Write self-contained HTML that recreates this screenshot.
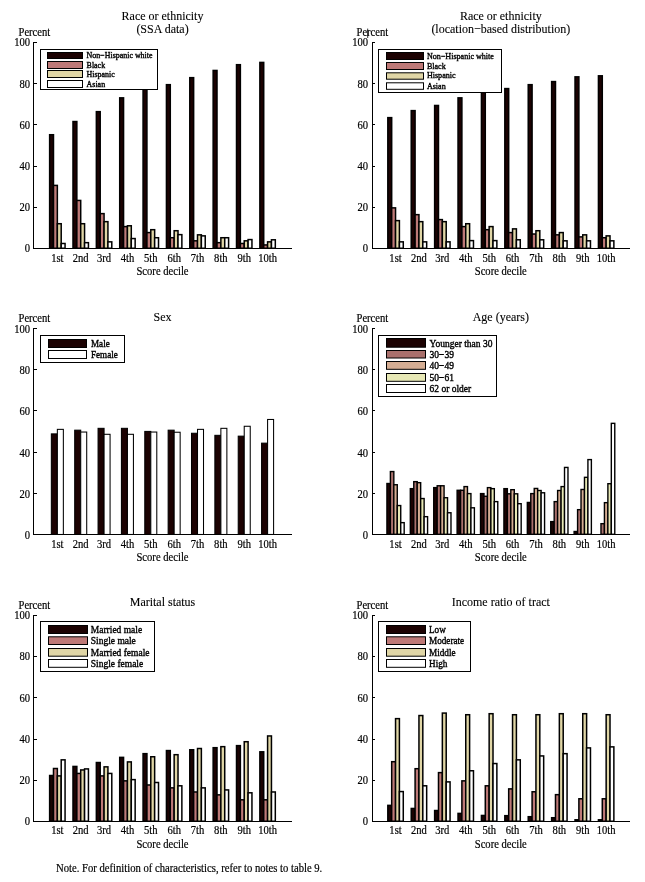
<!DOCTYPE html>
<html><head><meta charset="utf-8"><title>Score decile charts</title>
<style>
html,body{margin:0;padding:0;background:#fff;}
body{width:645px;height:882px;overflow:hidden;}
svg{display:block;will-change:transform;}
text{font-family:"Liberation Serif",serif;fill:#000;}
</style></head><body>
<svg width="645" height="882" viewBox="0 0 645 882">
<rect x="0" y="0" width="645" height="882" fill="#fff"/>
<text transform="translate(162.5 20.4) scale(1 1.08)" font-size="12" text-anchor="middle" stroke="#000" stroke-width="0.1">Race or ethnicity</text>
<text transform="translate(162.5 33) scale(1 1.08)" font-size="12" text-anchor="middle" stroke="#000" stroke-width="0.1">(SSA data)</text>
<text transform="translate(18.5 35.9) scale(1 1.11)" font-size="10.6" stroke="#000" stroke-width="0.18">Percent</text>
<text transform="translate(30.1 251.9) scale(1 1.11)" font-size="10.6" text-anchor="end" stroke="#000" stroke-width="0.18">0</text>
<text transform="translate(30.1 211.4) scale(1 1.11)" font-size="10.6" text-anchor="end" stroke="#000" stroke-width="0.18">20</text>
<text transform="translate(30.1 170.2) scale(1 1.11)" font-size="10.6" text-anchor="end" stroke="#000" stroke-width="0.18">40</text>
<text transform="translate(30.1 129) scale(1 1.11)" font-size="10.6" text-anchor="end" stroke="#000" stroke-width="0.18">60</text>
<text transform="translate(30.1 87.8) scale(1 1.11)" font-size="10.6" text-anchor="end" stroke="#000" stroke-width="0.18">80</text>
<text transform="translate(30.1 45.9) scale(1 1.11)" font-size="10.6" text-anchor="end" stroke="#000" stroke-width="0.18">100</text>
<g stroke="#000" stroke-width="1.5"><rect x="49.63" y="134.73" width="3.86" height="113.52" fill="#1c0202"/><rect x="53.49" y="185.4" width="3.86" height="62.85" fill="#be7977"/><rect x="57.35" y="223.72" width="3.86" height="24.53" fill="#e0d6a6"/><rect x="61.21" y="243.49" width="3.86" height="4.76" fill="#ffffff"/><rect x="72.99" y="121.54" width="3.86" height="126.71" fill="#1c0202"/><rect x="76.85" y="200.44" width="3.86" height="47.81" fill="#be7977"/><rect x="80.71" y="223.72" width="3.86" height="24.53" fill="#e0d6a6"/><rect x="84.57" y="242.67" width="3.86" height="5.58" fill="#ffffff"/><rect x="96.35" y="111.65" width="3.86" height="136.6" fill="#1c0202"/><rect x="100.21" y="213.62" width="3.86" height="34.63" fill="#be7977"/><rect x="104.07" y="221.66" width="3.86" height="26.59" fill="#e0d6a6"/><rect x="107.93" y="241.85" width="3.86" height="6.4" fill="#ffffff"/><rect x="119.71" y="97.85" width="3.86" height="150.4" fill="#1c0202"/><rect x="123.57" y="226.6" width="3.86" height="21.65" fill="#be7977"/><rect x="127.43" y="225.78" width="3.86" height="22.47" fill="#e0d6a6"/><rect x="131.29" y="238.55" width="3.86" height="9.7" fill="#ffffff"/><rect x="143.07" y="89.2" width="3.86" height="159.05" fill="#1c0202"/><rect x="146.93" y="232.58" width="3.86" height="15.67" fill="#be7977"/><rect x="150.79" y="229.69" width="3.86" height="18.56" fill="#e0d6a6"/><rect x="154.65" y="237.73" width="3.86" height="10.52" fill="#ffffff"/><rect x="166.43" y="84.67" width="3.86" height="163.58" fill="#1c0202"/><rect x="170.29" y="237.73" width="3.86" height="10.52" fill="#be7977"/><rect x="174.15" y="230.72" width="3.86" height="17.53" fill="#e0d6a6"/><rect x="178.01" y="234.64" width="3.86" height="13.61" fill="#ffffff"/><rect x="189.79" y="77.66" width="3.86" height="170.59" fill="#1c0202"/><rect x="193.65" y="240.82" width="3.86" height="7.43" fill="#be7977"/><rect x="197.51" y="234.84" width="3.86" height="13.41" fill="#e0d6a6"/><rect x="201.37" y="235.87" width="3.86" height="12.38" fill="#ffffff"/><rect x="213.15" y="70.45" width="3.86" height="177.8" fill="#1c0202"/><rect x="217.01" y="242.67" width="3.86" height="5.58" fill="#be7977"/><rect x="220.87" y="237.73" width="3.86" height="10.52" fill="#e0d6a6"/><rect x="224.73" y="237.73" width="3.86" height="10.52" fill="#ffffff"/><rect x="236.51" y="64.69" width="3.86" height="183.56" fill="#1c0202"/><rect x="240.37" y="243.49" width="3.86" height="4.76" fill="#be7977"/><rect x="244.23" y="240.82" width="3.86" height="7.43" fill="#e0d6a6"/><rect x="248.09" y="239.58" width="3.86" height="8.67" fill="#ffffff"/><rect x="259.87" y="62.42" width="3.86" height="185.83" fill="#1c0202"/><rect x="263.73" y="244.94" width="3.86" height="3.31" fill="#be7977"/><rect x="267.59" y="241.85" width="3.86" height="6.4" fill="#e0d6a6"/><rect x="271.45" y="239.79" width="3.86" height="8.46" fill="#ffffff"/></g>
<text transform="translate(57.35 261.7) scale(1 1.11)" font-size="10.6" text-anchor="middle" stroke="#000" stroke-width="0.18">1st</text>
<text transform="translate(80.71 261.7) scale(1 1.11)" font-size="10.6" text-anchor="middle" stroke="#000" stroke-width="0.18">2nd</text>
<text transform="translate(104.07 261.7) scale(1 1.11)" font-size="10.6" text-anchor="middle" stroke="#000" stroke-width="0.18">3rd</text>
<text transform="translate(127.43 261.7) scale(1 1.11)" font-size="10.6" text-anchor="middle" stroke="#000" stroke-width="0.18">4th</text>
<text transform="translate(150.79 261.7) scale(1 1.11)" font-size="10.6" text-anchor="middle" stroke="#000" stroke-width="0.18">5th</text>
<text transform="translate(174.15 261.7) scale(1 1.11)" font-size="10.6" text-anchor="middle" stroke="#000" stroke-width="0.18">6th</text>
<text transform="translate(197.51 261.7) scale(1 1.11)" font-size="10.6" text-anchor="middle" stroke="#000" stroke-width="0.18">7th</text>
<text transform="translate(220.87 261.7) scale(1 1.11)" font-size="10.6" text-anchor="middle" stroke="#000" stroke-width="0.18">8th</text>
<text transform="translate(244.23 261.7) scale(1 1.11)" font-size="10.6" text-anchor="middle" stroke="#000" stroke-width="0.18">9th</text>
<text transform="translate(267.59 261.7) scale(1 1.11)" font-size="10.6" text-anchor="middle" stroke="#000" stroke-width="0.18">10th</text>
<text transform="translate(162.5 275) scale(1 1.11)" font-size="10.6" text-anchor="middle" stroke="#000" stroke-width="0.18">Score decile</text>
<path d="M33.5 42 V248.5 H292" fill="none" stroke="#000" stroke-width="1"/>
<path d="M33 248.5 H37 M33 207.5 H37 M33 166.5 H37 M33 124.5 H37 M33 83.5 H37 M33 42.5 H37" stroke="#000" stroke-width="1"/>
<rect x="40.5" y="49.5" width="117" height="40" fill="#fff" stroke="#000" stroke-width="1"/>
<rect x="47.5" y="52.5" width="35" height="6" fill="#1c0202" stroke="#000" stroke-width="1"/>
<text transform="translate(86.6 57.7) scale(1 1.11)" font-size="7.94" stroke="#000" stroke-width="0.35">Non−Hispanic white</text>
<rect x="47.5" y="61.5" width="35" height="7" fill="#be7977" stroke="#000" stroke-width="1"/>
<text transform="translate(86.6 67.7) scale(1 1.11)" font-size="7.94" stroke="#000" stroke-width="0.35">Black</text>
<rect x="47.5" y="70.5" width="35" height="7" fill="#e0d6a6" stroke="#000" stroke-width="1"/>
<text transform="translate(86.6 76.7) scale(1 1.11)" font-size="7.94" stroke="#000" stroke-width="0.35">Hispanic</text>
<rect x="47.5" y="80.5" width="35" height="7" fill="#ffffff" stroke="#000" stroke-width="1"/>
<text transform="translate(86.6 86.7) scale(1 1.11)" font-size="7.94" stroke="#000" stroke-width="0.35">Asian</text>
<text transform="translate(500.8 20.4) scale(1 1.08)" font-size="12" text-anchor="middle" stroke="#000" stroke-width="0.1">Race or ethnicity</text>
<text transform="translate(500.8 32.6) scale(1 1.08)" font-size="12" text-anchor="middle" stroke="#000" stroke-width="0.1">(location−based distribution)</text>
<text transform="translate(356.5 35.9) scale(1 1.11)" font-size="10.6" stroke="#000" stroke-width="0.18">Percent</text>
<text transform="translate(368.1 251.9) scale(1 1.11)" font-size="10.6" text-anchor="end" stroke="#000" stroke-width="0.18">0</text>
<text transform="translate(368.1 211.4) scale(1 1.11)" font-size="10.6" text-anchor="end" stroke="#000" stroke-width="0.18">20</text>
<text transform="translate(368.1 170.2) scale(1 1.11)" font-size="10.6" text-anchor="end" stroke="#000" stroke-width="0.18">40</text>
<text transform="translate(368.1 129) scale(1 1.11)" font-size="10.6" text-anchor="end" stroke="#000" stroke-width="0.18">60</text>
<text transform="translate(368.1 87.8) scale(1 1.11)" font-size="10.6" text-anchor="end" stroke="#000" stroke-width="0.18">80</text>
<text transform="translate(368.1 45.9) scale(1 1.11)" font-size="10.6" text-anchor="end" stroke="#000" stroke-width="0.18">100</text>
<g stroke="#000" stroke-width="1.5"><rect x="387.83" y="117.63" width="3.86" height="130.62" fill="#1c0202"/><rect x="391.69" y="207.86" width="3.86" height="40.39" fill="#be7977"/><rect x="395.55" y="220.63" width="3.86" height="27.62" fill="#e0d6a6"/><rect x="399.41" y="241.85" width="3.86" height="6.4" fill="#ffffff"/><rect x="411.23" y="110.62" width="3.86" height="137.63" fill="#1c0202"/><rect x="415.09" y="214.65" width="3.86" height="33.6" fill="#be7977"/><rect x="418.95" y="221.66" width="3.86" height="26.59" fill="#e0d6a6"/><rect x="422.81" y="241.85" width="3.86" height="6.4" fill="#ffffff"/><rect x="434.63" y="105.47" width="3.86" height="142.78" fill="#1c0202"/><rect x="438.49" y="219.6" width="3.86" height="28.65" fill="#be7977"/><rect x="442.35" y="221.66" width="3.86" height="26.59" fill="#e0d6a6"/><rect x="446.21" y="241.85" width="3.86" height="6.4" fill="#ffffff"/><rect x="458.03" y="97.85" width="3.86" height="150.4" fill="#1c0202"/><rect x="461.89" y="226.6" width="3.86" height="21.65" fill="#be7977"/><rect x="465.75" y="223.72" width="3.86" height="24.53" fill="#e0d6a6"/><rect x="469.61" y="240.61" width="3.86" height="7.64" fill="#ffffff"/><rect x="481.43" y="92.29" width="3.86" height="155.96" fill="#1c0202"/><rect x="485.29" y="229.69" width="3.86" height="18.56" fill="#be7977"/><rect x="489.15" y="226.6" width="3.86" height="21.65" fill="#e0d6a6"/><rect x="493.01" y="240.61" width="3.86" height="7.64" fill="#ffffff"/><rect x="504.83" y="88.58" width="3.86" height="159.67" fill="#1c0202"/><rect x="508.69" y="232.58" width="3.86" height="15.67" fill="#be7977"/><rect x="512.55" y="228.87" width="3.86" height="19.38" fill="#e0d6a6"/><rect x="516.41" y="239.79" width="3.86" height="8.46" fill="#ffffff"/><rect x="528.23" y="84.67" width="3.86" height="163.58" fill="#1c0202"/><rect x="532.09" y="234.02" width="3.86" height="14.23" fill="#be7977"/><rect x="535.95" y="230.72" width="3.86" height="17.53" fill="#e0d6a6"/><rect x="539.81" y="239.79" width="3.86" height="8.46" fill="#ffffff"/><rect x="551.63" y="81.58" width="3.86" height="166.67" fill="#1c0202"/><rect x="555.49" y="234.84" width="3.86" height="13.41" fill="#be7977"/><rect x="559.35" y="232.58" width="3.86" height="15.67" fill="#e0d6a6"/><rect x="563.21" y="240.82" width="3.86" height="7.43" fill="#ffffff"/><rect x="575.03" y="76.84" width="3.86" height="171.41" fill="#1c0202"/><rect x="578.89" y="236.9" width="3.86" height="11.35" fill="#be7977"/><rect x="582.75" y="234.84" width="3.86" height="13.41" fill="#e0d6a6"/><rect x="586.61" y="240.82" width="3.86" height="7.43" fill="#ffffff"/><rect x="598.43" y="75.81" width="3.86" height="172.44" fill="#1c0202"/><rect x="602.29" y="237.73" width="3.86" height="10.52" fill="#be7977"/><rect x="606.15" y="235.87" width="3.86" height="12.38" fill="#e0d6a6"/><rect x="610.01" y="240.82" width="3.86" height="7.43" fill="#ffffff"/></g>
<text transform="translate(395.55 261.7) scale(1 1.11)" font-size="10.6" text-anchor="middle" stroke="#000" stroke-width="0.18">1st</text>
<text transform="translate(418.95 261.7) scale(1 1.11)" font-size="10.6" text-anchor="middle" stroke="#000" stroke-width="0.18">2nd</text>
<text transform="translate(442.35 261.7) scale(1 1.11)" font-size="10.6" text-anchor="middle" stroke="#000" stroke-width="0.18">3rd</text>
<text transform="translate(465.75 261.7) scale(1 1.11)" font-size="10.6" text-anchor="middle" stroke="#000" stroke-width="0.18">4th</text>
<text transform="translate(489.15 261.7) scale(1 1.11)" font-size="10.6" text-anchor="middle" stroke="#000" stroke-width="0.18">5th</text>
<text transform="translate(512.55 261.7) scale(1 1.11)" font-size="10.6" text-anchor="middle" stroke="#000" stroke-width="0.18">6th</text>
<text transform="translate(535.95 261.7) scale(1 1.11)" font-size="10.6" text-anchor="middle" stroke="#000" stroke-width="0.18">7th</text>
<text transform="translate(559.35 261.7) scale(1 1.11)" font-size="10.6" text-anchor="middle" stroke="#000" stroke-width="0.18">8th</text>
<text transform="translate(582.75 261.7) scale(1 1.11)" font-size="10.6" text-anchor="middle" stroke="#000" stroke-width="0.18">9th</text>
<text transform="translate(606.15 261.7) scale(1 1.11)" font-size="10.6" text-anchor="middle" stroke="#000" stroke-width="0.18">10th</text>
<text transform="translate(500.8 275) scale(1 1.11)" font-size="10.6" text-anchor="middle" stroke="#000" stroke-width="0.18">Score decile</text>
<path d="M372.5 42 V248.5 H630" fill="none" stroke="#000" stroke-width="1"/>
<path d="M372 248.5 H375 M372 207.5 H375 M372 166.5 H375 M372 124.5 H375 M372 83.5 H375 M372 42.5 H375" stroke="#000" stroke-width="1"/>
<rect x="378.5" y="49.5" width="123" height="43" fill="#fff" stroke="#000" stroke-width="1"/>
<rect x="386.5" y="52.5" width="37" height="7" fill="#1c0202" stroke="#000" stroke-width="1"/>
<text transform="translate(426.9 58.7) scale(1 1.11)" font-size="8.08" stroke="#000" stroke-width="0.35">Non−Hispanic white</text>
<rect x="386.5" y="62.5" width="37" height="7" fill="#be7977" stroke="#000" stroke-width="1"/>
<text transform="translate(426.9 68.7) scale(1 1.11)" font-size="8.08" stroke="#000" stroke-width="0.35">Black</text>
<rect x="386.5" y="72.8" width="37" height="6.4" fill="#e0d6a6" stroke="#000" stroke-width="1"/>
<text transform="translate(426.9 78.4) scale(1 1.11)" font-size="8.08" stroke="#000" stroke-width="0.35">Hispanic</text>
<rect x="386.5" y="82.8" width="37" height="6.5" fill="#ffffff" stroke="#000" stroke-width="1"/>
<text transform="translate(426.9 88.5) scale(1 1.11)" font-size="8.08" stroke="#000" stroke-width="0.35">Asian</text>
<text transform="translate(162.5 320.6) scale(1 1.08)" font-size="12" text-anchor="middle" stroke="#000" stroke-width="0.1">Sex</text>
<text transform="translate(18.5 321.9) scale(1 1.11)" font-size="10.6" stroke="#000" stroke-width="0.18">Percent</text>
<text transform="translate(30.1 539.05) scale(1 1.11)" font-size="10.6" text-anchor="end" stroke="#000" stroke-width="0.18">0</text>
<text transform="translate(30.1 497.85) scale(1 1.11)" font-size="10.6" text-anchor="end" stroke="#000" stroke-width="0.18">20</text>
<text transform="translate(30.1 456.65) scale(1 1.11)" font-size="10.6" text-anchor="end" stroke="#000" stroke-width="0.18">40</text>
<text transform="translate(30.1 415.45) scale(1 1.11)" font-size="10.6" text-anchor="end" stroke="#000" stroke-width="0.18">60</text>
<text transform="translate(30.1 374.25) scale(1 1.11)" font-size="10.6" text-anchor="end" stroke="#000" stroke-width="0.18">80</text>
<text transform="translate(30.1 333.05) scale(1 1.11)" font-size="10.6" text-anchor="end" stroke="#000" stroke-width="0.18">100</text>
<g stroke="#000" stroke-width="1.05"><rect x="51.35" y="433.89" width="6" height="100.58" fill="#1c0202"/><rect x="57.35" y="429.36" width="6" height="105.12" fill="#ffffff"/><rect x="74.71" y="430.18" width="6" height="104.29" fill="#1c0202"/><rect x="80.71" y="432.04" width="6" height="102.44" fill="#ffffff"/><rect x="98.07" y="428.33" width="6" height="106.15" fill="#1c0202"/><rect x="104.07" y="434.3" width="6" height="100.17" fill="#ffffff"/><rect x="121.43" y="428.33" width="6" height="106.15" fill="#1c0202"/><rect x="127.43" y="434.3" width="6" height="100.17" fill="#ffffff"/><rect x="144.79" y="431.42" width="6" height="103.06" fill="#1c0202"/><rect x="150.79" y="432.04" width="6" height="102.44" fill="#ffffff"/><rect x="168.15" y="430.18" width="6" height="104.29" fill="#1c0202"/><rect x="174.15" y="432.24" width="6" height="102.23" fill="#ffffff"/><rect x="191.51" y="433.27" width="6" height="101.2" fill="#1c0202"/><rect x="197.51" y="429.36" width="6" height="105.12" fill="#ffffff"/><rect x="214.87" y="435.33" width="6" height="99.14" fill="#1c0202"/><rect x="220.87" y="428.33" width="6" height="106.15" fill="#ffffff"/><rect x="238.23" y="436.16" width="6" height="98.32" fill="#1c0202"/><rect x="244.23" y="426.27" width="6" height="108.21" fill="#ffffff"/><rect x="261.59" y="443.16" width="6" height="91.31" fill="#1c0202"/><rect x="267.59" y="419.47" width="6" height="115" fill="#ffffff"/></g>
<text transform="translate(57.35 547.7) scale(1 1.11)" font-size="10.6" text-anchor="middle" stroke="#000" stroke-width="0.18">1st</text>
<text transform="translate(80.71 547.7) scale(1 1.11)" font-size="10.6" text-anchor="middle" stroke="#000" stroke-width="0.18">2nd</text>
<text transform="translate(104.07 547.7) scale(1 1.11)" font-size="10.6" text-anchor="middle" stroke="#000" stroke-width="0.18">3rd</text>
<text transform="translate(127.43 547.7) scale(1 1.11)" font-size="10.6" text-anchor="middle" stroke="#000" stroke-width="0.18">4th</text>
<text transform="translate(150.79 547.7) scale(1 1.11)" font-size="10.6" text-anchor="middle" stroke="#000" stroke-width="0.18">5th</text>
<text transform="translate(174.15 547.7) scale(1 1.11)" font-size="10.6" text-anchor="middle" stroke="#000" stroke-width="0.18">6th</text>
<text transform="translate(197.51 547.7) scale(1 1.11)" font-size="10.6" text-anchor="middle" stroke="#000" stroke-width="0.18">7th</text>
<text transform="translate(220.87 547.7) scale(1 1.11)" font-size="10.6" text-anchor="middle" stroke="#000" stroke-width="0.18">8th</text>
<text transform="translate(244.23 547.7) scale(1 1.11)" font-size="10.6" text-anchor="middle" stroke="#000" stroke-width="0.18">9th</text>
<text transform="translate(267.59 547.7) scale(1 1.11)" font-size="10.6" text-anchor="middle" stroke="#000" stroke-width="0.18">10th</text>
<text transform="translate(162.5 561) scale(1 1.11)" font-size="10.6" text-anchor="middle" stroke="#000" stroke-width="0.18">Score decile</text>
<path d="M33.5 328 V534.5 H292" fill="none" stroke="#000" stroke-width="1"/>
<path d="M33 534.5 H37 M33 493.5 H37 M33 452.5 H37 M33 410.5 H37 M33 369.5 H37 M33 328.5 H37" stroke="#000" stroke-width="1"/>
<rect x="40.5" y="335.5" width="84" height="27" fill="#fff" stroke="#000" stroke-width="1"/>
<rect x="48.5" y="339.5" width="38" height="8" fill="#1c0202" stroke="#000" stroke-width="1"/>
<text transform="translate(91 346.9) scale(1 1.11)" font-size="9.1" stroke="#000" stroke-width="0.35">Male</text>
<rect x="48.5" y="350.5" width="38" height="8" fill="#ffffff" stroke="#000" stroke-width="1"/>
<text transform="translate(91 357.9) scale(1 1.11)" font-size="9.1" stroke="#000" stroke-width="0.35">Female</text>
<text transform="translate(500.8 320.5) scale(1 1.08)" font-size="12" text-anchor="middle" stroke="#000" stroke-width="0.1">Age (years)</text>
<text transform="translate(356.5 321.9) scale(1 1.11)" font-size="10.6" stroke="#000" stroke-width="0.18">Percent</text>
<text transform="translate(368.1 539.05) scale(1 1.11)" font-size="10.6" text-anchor="end" stroke="#000" stroke-width="0.18">0</text>
<text transform="translate(368.1 497.85) scale(1 1.11)" font-size="10.6" text-anchor="end" stroke="#000" stroke-width="0.18">20</text>
<text transform="translate(368.1 456.65) scale(1 1.11)" font-size="10.6" text-anchor="end" stroke="#000" stroke-width="0.18">40</text>
<text transform="translate(368.1 415.45) scale(1 1.11)" font-size="10.6" text-anchor="end" stroke="#000" stroke-width="0.18">60</text>
<text transform="translate(368.1 374.25) scale(1 1.11)" font-size="10.6" text-anchor="end" stroke="#000" stroke-width="0.18">80</text>
<text transform="translate(368.1 333.05) scale(1 1.11)" font-size="10.6" text-anchor="end" stroke="#000" stroke-width="0.18">100</text>
<g stroke="#000" stroke-width="1.4"><rect x="386.93" y="483.51" width="3.45" height="50.79" fill="#1c0202"/><rect x="390.38" y="471.56" width="3.45" height="62.74" fill="#a9706c"/><rect x="393.82" y="484.74" width="3.45" height="49.56" fill="#d5ad93"/><rect x="397.28" y="505.55" width="3.45" height="28.75" fill="#e7e8b5"/><rect x="400.73" y="522.65" width="3.45" height="11.65" fill="#ffffff"/><rect x="410.32" y="488.66" width="3.45" height="45.64" fill="#1c0202"/><rect x="413.77" y="481.65" width="3.45" height="52.65" fill="#a9706c"/><rect x="417.22" y="482.68" width="3.45" height="51.62" fill="#d5ad93"/><rect x="420.68" y="498.54" width="3.45" height="35.76" fill="#e7e8b5"/><rect x="424.12" y="516.67" width="3.45" height="17.63" fill="#ffffff"/><rect x="433.73" y="487.63" width="3.45" height="46.67" fill="#1c0202"/><rect x="437.18" y="485.77" width="3.45" height="48.53" fill="#a9706c"/><rect x="440.62" y="485.77" width="3.45" height="48.53" fill="#d5ad93"/><rect x="444.08" y="497.72" width="3.45" height="36.58" fill="#e7e8b5"/><rect x="447.53" y="512.76" width="3.45" height="21.54" fill="#ffffff"/><rect x="457.12" y="490.3" width="3.45" height="44" fill="#1c0202"/><rect x="460.57" y="490.3" width="3.45" height="44" fill="#a9706c"/><rect x="464.02" y="486.6" width="3.45" height="47.7" fill="#d5ad93"/><rect x="467.48" y="493.6" width="3.45" height="40.7" fill="#e7e8b5"/><rect x="470.93" y="507.81" width="3.45" height="26.49" fill="#ffffff"/><rect x="480.52" y="493.6" width="3.45" height="40.7" fill="#1c0202"/><rect x="483.97" y="496.28" width="3.45" height="38.02" fill="#a9706c"/><rect x="487.42" y="487.63" width="3.45" height="46.67" fill="#d5ad93"/><rect x="490.88" y="488.66" width="3.45" height="45.64" fill="#e7e8b5"/><rect x="494.32" y="501.63" width="3.45" height="32.67" fill="#ffffff"/><rect x="503.92" y="488.66" width="3.45" height="45.64" fill="#1c0202"/><rect x="507.37" y="493.81" width="3.45" height="40.49" fill="#a9706c"/><rect x="510.82" y="489.69" width="3.45" height="44.61" fill="#d5ad93"/><rect x="514.27" y="493.81" width="3.45" height="40.49" fill="#e7e8b5"/><rect x="517.72" y="503.69" width="3.45" height="30.61" fill="#ffffff"/><rect x="527.33" y="502.46" width="3.45" height="31.84" fill="#1c0202"/><rect x="530.78" y="493.6" width="3.45" height="40.7" fill="#a9706c"/><rect x="534.23" y="488.45" width="3.45" height="45.85" fill="#d5ad93"/><rect x="537.68" y="490.51" width="3.45" height="43.79" fill="#e7e8b5"/><rect x="541.12" y="492.78" width="3.45" height="41.52" fill="#ffffff"/><rect x="550.73" y="521.62" width="3.45" height="12.68" fill="#1c0202"/><rect x="554.18" y="501.63" width="3.45" height="32.67" fill="#a9706c"/><rect x="557.62" y="490.51" width="3.45" height="43.79" fill="#d5ad93"/><rect x="561.08" y="486.6" width="3.45" height="47.7" fill="#e7e8b5"/><rect x="564.52" y="467.44" width="3.45" height="66.86" fill="#ffffff"/><rect x="574.12" y="531.5" width="3.45" height="2.8" fill="#1c0202"/><rect x="577.58" y="509.67" width="3.45" height="24.63" fill="#a9706c"/><rect x="581.02" y="489.48" width="3.45" height="44.82" fill="#d5ad93"/><rect x="584.48" y="477.33" width="3.45" height="56.97" fill="#e7e8b5"/><rect x="587.92" y="459.61" width="3.45" height="74.69" fill="#ffffff"/><rect x="600.98" y="523.68" width="3.45" height="10.62" fill="#a9706c"/><rect x="604.42" y="502.66" width="3.45" height="31.64" fill="#d5ad93"/><rect x="607.88" y="483.71" width="3.45" height="50.59" fill="#e7e8b5"/><rect x="611.32" y="423.35" width="3.45" height="110.95" fill="#ffffff"/></g>
<text transform="translate(395.55 547.7) scale(1 1.11)" font-size="10.6" text-anchor="middle" stroke="#000" stroke-width="0.18">1st</text>
<text transform="translate(418.95 547.7) scale(1 1.11)" font-size="10.6" text-anchor="middle" stroke="#000" stroke-width="0.18">2nd</text>
<text transform="translate(442.35 547.7) scale(1 1.11)" font-size="10.6" text-anchor="middle" stroke="#000" stroke-width="0.18">3rd</text>
<text transform="translate(465.75 547.7) scale(1 1.11)" font-size="10.6" text-anchor="middle" stroke="#000" stroke-width="0.18">4th</text>
<text transform="translate(489.15 547.7) scale(1 1.11)" font-size="10.6" text-anchor="middle" stroke="#000" stroke-width="0.18">5th</text>
<text transform="translate(512.55 547.7) scale(1 1.11)" font-size="10.6" text-anchor="middle" stroke="#000" stroke-width="0.18">6th</text>
<text transform="translate(535.95 547.7) scale(1 1.11)" font-size="10.6" text-anchor="middle" stroke="#000" stroke-width="0.18">7th</text>
<text transform="translate(559.35 547.7) scale(1 1.11)" font-size="10.6" text-anchor="middle" stroke="#000" stroke-width="0.18">8th</text>
<text transform="translate(582.75 547.7) scale(1 1.11)" font-size="10.6" text-anchor="middle" stroke="#000" stroke-width="0.18">9th</text>
<text transform="translate(606.15 547.7) scale(1 1.11)" font-size="10.6" text-anchor="middle" stroke="#000" stroke-width="0.18">10th</text>
<text transform="translate(500.8 561) scale(1 1.11)" font-size="10.6" text-anchor="middle" stroke="#000" stroke-width="0.18">Score decile</text>
<path d="M372.5 328 V534.5 H630" fill="none" stroke="#000" stroke-width="1"/>
<path d="M372 534.5 H375 M372 493.5 H375 M372 452.5 H375 M372 410.5 H375 M372 369.5 H375 M372 328.5 H375" stroke="#000" stroke-width="1"/>
<rect x="378.5" y="335.5" width="118" height="61" fill="#fff" stroke="#000" stroke-width="1"/>
<rect x="386.5" y="338.5" width="39" height="8.7" fill="#1c0202" stroke="#000" stroke-width="1"/>
<text transform="translate(429.6 346.8) scale(1 1.11)" font-size="9.5" stroke="#000" stroke-width="0.35">Younger than 30</text>
<rect x="386.5" y="350.5" width="39" height="7.5" fill="#a9706c" stroke="#000" stroke-width="1"/>
<text transform="translate(429.6 357.6) scale(1 1.11)" font-size="9.5" stroke="#000" stroke-width="0.35">30−39</text>
<rect x="386.5" y="361.5" width="39" height="7.8" fill="#d5ad93" stroke="#000" stroke-width="1"/>
<text transform="translate(429.6 368.9) scale(1 1.11)" font-size="9.5" stroke="#000" stroke-width="0.35">40−49</text>
<rect x="386.5" y="373.5" width="39" height="7.8" fill="#e7e8b5" stroke="#000" stroke-width="1"/>
<text transform="translate(429.6 380.9) scale(1 1.11)" font-size="9.5" stroke="#000" stroke-width="0.35">50−61</text>
<rect x="386.5" y="384.5" width="39" height="8" fill="#ffffff" stroke="#000" stroke-width="1"/>
<text transform="translate(429.6 392.1) scale(1 1.11)" font-size="9.5" stroke="#000" stroke-width="0.35">62 or older</text>
<text transform="translate(162.5 606.4) scale(1 1.08)" font-size="12" text-anchor="middle" stroke="#000" stroke-width="0.1">Marital status</text>
<text transform="translate(18.5 608.9) scale(1 1.11)" font-size="10.6" stroke="#000" stroke-width="0.18">Percent</text>
<text transform="translate(30.1 825.15) scale(1 1.11)" font-size="10.6" text-anchor="end" stroke="#000" stroke-width="0.18">0</text>
<text transform="translate(30.1 783.95) scale(1 1.11)" font-size="10.6" text-anchor="end" stroke="#000" stroke-width="0.18">20</text>
<text transform="translate(30.1 742.75) scale(1 1.11)" font-size="10.6" text-anchor="end" stroke="#000" stroke-width="0.18">40</text>
<text transform="translate(30.1 701.55) scale(1 1.11)" font-size="10.6" text-anchor="end" stroke="#000" stroke-width="0.18">60</text>
<text transform="translate(30.1 660.35) scale(1 1.11)" font-size="10.6" text-anchor="end" stroke="#000" stroke-width="0.18">80</text>
<text transform="translate(30.1 619.15) scale(1 1.11)" font-size="10.6" text-anchor="end" stroke="#000" stroke-width="0.18">100</text>
<g stroke="#000" stroke-width="1.5"><rect x="49.63" y="775.5" width="3.86" height="45.75" fill="#1c0202"/><rect x="53.49" y="768.5" width="3.86" height="52.75" fill="#be7977"/><rect x="57.35" y="775.91" width="3.86" height="45.34" fill="#e0d6a6"/><rect x="61.21" y="759.84" width="3.86" height="61.41" fill="#ffffff"/><rect x="72.99" y="766.44" width="3.86" height="54.81" fill="#1c0202"/><rect x="76.85" y="773.44" width="3.86" height="47.81" fill="#be7977"/><rect x="80.71" y="769.94" width="3.86" height="51.31" fill="#e0d6a6"/><rect x="84.57" y="768.91" width="3.86" height="52.34" fill="#ffffff"/><rect x="96.35" y="762.52" width="3.86" height="58.73" fill="#1c0202"/><rect x="100.21" y="775.91" width="3.86" height="45.34" fill="#be7977"/><rect x="104.07" y="766.85" width="3.86" height="54.4" fill="#e0d6a6"/><rect x="107.93" y="773.44" width="3.86" height="47.81" fill="#ffffff"/><rect x="119.71" y="757.37" width="3.86" height="63.88" fill="#1c0202"/><rect x="123.57" y="780.86" width="3.86" height="40.39" fill="#be7977"/><rect x="127.43" y="761.9" width="3.86" height="59.35" fill="#e0d6a6"/><rect x="131.29" y="779.62" width="3.86" height="41.63" fill="#ffffff"/><rect x="143.07" y="753.66" width="3.86" height="67.59" fill="#1c0202"/><rect x="146.93" y="784.98" width="3.86" height="36.27" fill="#be7977"/><rect x="150.79" y="756.75" width="3.86" height="64.5" fill="#e0d6a6"/><rect x="154.65" y="782.5" width="3.86" height="38.75" fill="#ffffff"/><rect x="166.43" y="750.57" width="3.86" height="70.68" fill="#1c0202"/><rect x="170.29" y="787.86" width="3.86" height="33.39" fill="#be7977"/><rect x="174.15" y="754.69" width="3.86" height="66.56" fill="#e0d6a6"/><rect x="178.01" y="785.8" width="3.86" height="35.45" fill="#ffffff"/><rect x="189.79" y="749.75" width="3.86" height="71.5" fill="#1c0202"/><rect x="193.65" y="791.98" width="3.86" height="29.27" fill="#be7977"/><rect x="197.51" y="748.51" width="3.86" height="72.74" fill="#e0d6a6"/><rect x="201.37" y="787.86" width="3.86" height="33.39" fill="#ffffff"/><rect x="213.15" y="747.69" width="3.86" height="73.56" fill="#1c0202"/><rect x="217.01" y="794.86" width="3.86" height="26.39" fill="#be7977"/><rect x="220.87" y="746.66" width="3.86" height="74.59" fill="#e0d6a6"/><rect x="224.73" y="789.92" width="3.86" height="31.33" fill="#ffffff"/><rect x="236.51" y="745.63" width="3.86" height="75.62" fill="#1c0202"/><rect x="240.37" y="799.81" width="3.86" height="21.44" fill="#be7977"/><rect x="244.23" y="741.72" width="3.86" height="79.53" fill="#e0d6a6"/><rect x="248.09" y="792.8" width="3.86" height="28.45" fill="#ffffff"/><rect x="259.87" y="751.81" width="3.86" height="69.44" fill="#1c0202"/><rect x="263.73" y="799.81" width="3.86" height="21.44" fill="#be7977"/><rect x="267.59" y="735.95" width="3.86" height="85.3" fill="#e0d6a6"/><rect x="271.45" y="791.98" width="3.86" height="29.27" fill="#ffffff"/></g>
<text transform="translate(57.35 833.8) scale(1 1.11)" font-size="10.6" text-anchor="middle" stroke="#000" stroke-width="0.18">1st</text>
<text transform="translate(80.71 833.8) scale(1 1.11)" font-size="10.6" text-anchor="middle" stroke="#000" stroke-width="0.18">2nd</text>
<text transform="translate(104.07 833.8) scale(1 1.11)" font-size="10.6" text-anchor="middle" stroke="#000" stroke-width="0.18">3rd</text>
<text transform="translate(127.43 833.8) scale(1 1.11)" font-size="10.6" text-anchor="middle" stroke="#000" stroke-width="0.18">4th</text>
<text transform="translate(150.79 833.8) scale(1 1.11)" font-size="10.6" text-anchor="middle" stroke="#000" stroke-width="0.18">5th</text>
<text transform="translate(174.15 833.8) scale(1 1.11)" font-size="10.6" text-anchor="middle" stroke="#000" stroke-width="0.18">6th</text>
<text transform="translate(197.51 833.8) scale(1 1.11)" font-size="10.6" text-anchor="middle" stroke="#000" stroke-width="0.18">7th</text>
<text transform="translate(220.87 833.8) scale(1 1.11)" font-size="10.6" text-anchor="middle" stroke="#000" stroke-width="0.18">8th</text>
<text transform="translate(244.23 833.8) scale(1 1.11)" font-size="10.6" text-anchor="middle" stroke="#000" stroke-width="0.18">9th</text>
<text transform="translate(267.59 833.8) scale(1 1.11)" font-size="10.6" text-anchor="middle" stroke="#000" stroke-width="0.18">10th</text>
<text transform="translate(162.5 848) scale(1 1.11)" font-size="10.6" text-anchor="middle" stroke="#000" stroke-width="0.18">Score decile</text>
<path d="M33.5 615 V821.5 H292" fill="none" stroke="#000" stroke-width="1"/>
<path d="M33 821.5 H37 M33 780.5 H37 M33 739.5 H37 M33 697.5 H37 M33 656.5 H37 M33 615.5 H37" stroke="#000" stroke-width="1"/>
<rect x="40.5" y="621.5" width="114" height="50" fill="#fff" stroke="#000" stroke-width="1"/>
<rect x="48.5" y="625.5" width="39" height="8" fill="#1c0202" stroke="#000" stroke-width="1"/>
<text transform="translate(90.8 632.9) scale(1 1.11)" font-size="9.5" stroke="#000" stroke-width="0.35">Married male</text>
<rect x="48.5" y="636.8" width="39" height="7.7" fill="#be7977" stroke="#000" stroke-width="1"/>
<text transform="translate(90.8 643.9) scale(1 1.11)" font-size="9.5" stroke="#000" stroke-width="0.35">Single male</text>
<rect x="48.5" y="648.5" width="39" height="7.7" fill="#e0d6a6" stroke="#000" stroke-width="1"/>
<text transform="translate(90.8 655.6) scale(1 1.11)" font-size="9.5" stroke="#000" stroke-width="0.35">Married female</text>
<rect x="48.5" y="659.5" width="39" height="7.8" fill="#ffffff" stroke="#000" stroke-width="1"/>
<text transform="translate(90.8 666.7) scale(1 1.11)" font-size="9.5" stroke="#000" stroke-width="0.35">Single female</text>
<text transform="translate(500.8 606.4) scale(1 1.08)" font-size="12" text-anchor="middle" stroke="#000" stroke-width="0.1">Income ratio of tract</text>
<text transform="translate(356.5 608.9) scale(1 1.11)" font-size="10.6" stroke="#000" stroke-width="0.18">Percent</text>
<text transform="translate(368.1 825.15) scale(1 1.11)" font-size="10.6" text-anchor="end" stroke="#000" stroke-width="0.18">0</text>
<text transform="translate(368.1 783.95) scale(1 1.11)" font-size="10.6" text-anchor="end" stroke="#000" stroke-width="0.18">20</text>
<text transform="translate(368.1 742.75) scale(1 1.11)" font-size="10.6" text-anchor="end" stroke="#000" stroke-width="0.18">40</text>
<text transform="translate(368.1 701.55) scale(1 1.11)" font-size="10.6" text-anchor="end" stroke="#000" stroke-width="0.18">60</text>
<text transform="translate(368.1 660.35) scale(1 1.11)" font-size="10.6" text-anchor="end" stroke="#000" stroke-width="0.18">80</text>
<text transform="translate(368.1 619.15) scale(1 1.11)" font-size="10.6" text-anchor="end" stroke="#000" stroke-width="0.18">100</text>
<g stroke="#000" stroke-width="1.5"><rect x="387.83" y="805.37" width="3.86" height="15.88" fill="#1c0202"/><rect x="391.69" y="761.7" width="3.86" height="59.55" fill="#be7977"/><rect x="395.55" y="718.64" width="3.86" height="102.61" fill="#e0d6a6"/><rect x="399.41" y="791.57" width="3.86" height="29.68" fill="#ffffff"/><rect x="411.23" y="808.46" width="3.86" height="12.79" fill="#1c0202"/><rect x="415.09" y="768.7" width="3.86" height="52.55" fill="#be7977"/><rect x="418.95" y="715.55" width="3.86" height="105.7" fill="#e0d6a6"/><rect x="422.81" y="785.8" width="3.86" height="35.45" fill="#ffffff"/><rect x="434.63" y="810.52" width="3.86" height="10.73" fill="#1c0202"/><rect x="438.49" y="772.62" width="3.86" height="48.63" fill="#be7977"/><rect x="442.35" y="713.08" width="3.86" height="108.17" fill="#e0d6a6"/><rect x="446.21" y="781.89" width="3.86" height="39.36" fill="#ffffff"/><rect x="458.03" y="813.4" width="3.86" height="7.85" fill="#1c0202"/><rect x="461.89" y="780.86" width="3.86" height="40.39" fill="#be7977"/><rect x="465.75" y="714.73" width="3.86" height="106.52" fill="#e0d6a6"/><rect x="469.61" y="770.76" width="3.86" height="50.49" fill="#ffffff"/><rect x="481.43" y="815.46" width="3.86" height="5.79" fill="#1c0202"/><rect x="485.29" y="785.8" width="3.86" height="35.45" fill="#be7977"/><rect x="489.15" y="713.7" width="3.86" height="107.55" fill="#e0d6a6"/><rect x="493.01" y="763.55" width="3.86" height="57.7" fill="#ffffff"/><rect x="504.83" y="815.67" width="3.86" height="5.58" fill="#1c0202"/><rect x="508.69" y="788.89" width="3.86" height="32.36" fill="#be7977"/><rect x="512.55" y="714.73" width="3.86" height="106.52" fill="#e0d6a6"/><rect x="516.41" y="759.84" width="3.86" height="61.41" fill="#ffffff"/><rect x="528.23" y="816.7" width="3.86" height="4.55" fill="#1c0202"/><rect x="532.09" y="791.77" width="3.86" height="29.48" fill="#be7977"/><rect x="535.95" y="714.73" width="3.86" height="106.52" fill="#e0d6a6"/><rect x="539.81" y="755.93" width="3.86" height="65.32" fill="#ffffff"/><rect x="551.63" y="817.73" width="3.86" height="3.52" fill="#1c0202"/><rect x="555.49" y="794.66" width="3.86" height="26.59" fill="#be7977"/><rect x="559.35" y="713.7" width="3.86" height="107.55" fill="#e0d6a6"/><rect x="563.21" y="753.66" width="3.86" height="67.59" fill="#ffffff"/><rect x="575.03" y="819.79" width="3.86" height="1.46" fill="#1c0202"/><rect x="578.89" y="798.78" width="3.86" height="22.47" fill="#be7977"/><rect x="582.75" y="713.7" width="3.86" height="107.55" fill="#e0d6a6"/><rect x="586.61" y="747.9" width="3.86" height="73.35" fill="#ffffff"/><rect x="598.43" y="819.79" width="3.86" height="1.46" fill="#1c0202"/><rect x="602.29" y="798.78" width="3.86" height="22.47" fill="#be7977"/><rect x="606.15" y="714.73" width="3.86" height="106.52" fill="#e0d6a6"/><rect x="610.01" y="746.87" width="3.86" height="74.38" fill="#ffffff"/></g>
<text transform="translate(395.55 833.8) scale(1 1.11)" font-size="10.6" text-anchor="middle" stroke="#000" stroke-width="0.18">1st</text>
<text transform="translate(418.95 833.8) scale(1 1.11)" font-size="10.6" text-anchor="middle" stroke="#000" stroke-width="0.18">2nd</text>
<text transform="translate(442.35 833.8) scale(1 1.11)" font-size="10.6" text-anchor="middle" stroke="#000" stroke-width="0.18">3rd</text>
<text transform="translate(465.75 833.8) scale(1 1.11)" font-size="10.6" text-anchor="middle" stroke="#000" stroke-width="0.18">4th</text>
<text transform="translate(489.15 833.8) scale(1 1.11)" font-size="10.6" text-anchor="middle" stroke="#000" stroke-width="0.18">5th</text>
<text transform="translate(512.55 833.8) scale(1 1.11)" font-size="10.6" text-anchor="middle" stroke="#000" stroke-width="0.18">6th</text>
<text transform="translate(535.95 833.8) scale(1 1.11)" font-size="10.6" text-anchor="middle" stroke="#000" stroke-width="0.18">7th</text>
<text transform="translate(559.35 833.8) scale(1 1.11)" font-size="10.6" text-anchor="middle" stroke="#000" stroke-width="0.18">8th</text>
<text transform="translate(582.75 833.8) scale(1 1.11)" font-size="10.6" text-anchor="middle" stroke="#000" stroke-width="0.18">9th</text>
<text transform="translate(606.15 833.8) scale(1 1.11)" font-size="10.6" text-anchor="middle" stroke="#000" stroke-width="0.18">10th</text>
<text transform="translate(500.8 848) scale(1 1.11)" font-size="10.6" text-anchor="middle" stroke="#000" stroke-width="0.18">Score decile</text>
<path d="M372.5 615 V821.5 H630" fill="none" stroke="#000" stroke-width="1"/>
<path d="M372 821.5 H375 M372 780.5 H375 M372 739.5 H375 M372 697.5 H375 M372 656.5 H375 M372 615.5 H375" stroke="#000" stroke-width="1"/>
<rect x="378.5" y="621.5" width="92" height="50" fill="#fff" stroke="#000" stroke-width="1"/>
<rect x="386.5" y="625.5" width="39" height="8" fill="#1c0202" stroke="#000" stroke-width="1"/>
<text transform="translate(429 632.9) scale(1 1.11)" font-size="9.2" stroke="#000" stroke-width="0.35">Low</text>
<rect x="386.5" y="636.8" width="39" height="7.7" fill="#be7977" stroke="#000" stroke-width="1"/>
<text transform="translate(429 643.9) scale(1 1.11)" font-size="9.2" stroke="#000" stroke-width="0.35">Moderate</text>
<rect x="386.5" y="648.5" width="39" height="7.7" fill="#e0d6a6" stroke="#000" stroke-width="1"/>
<text transform="translate(429 655.6) scale(1 1.11)" font-size="9.2" stroke="#000" stroke-width="0.35">Middle</text>
<rect x="386.5" y="659.5" width="39" height="7.8" fill="#ffffff" stroke="#000" stroke-width="1"/>
<text transform="translate(429 666.7) scale(1 1.11)" font-size="9.2" stroke="#000" stroke-width="0.35">High</text>
<path d="M367.7 28.6V38" stroke="#000" stroke-width="0.8"/>
<text transform="translate(56 871.8) scale(1 1.1)" font-size="10.66" stroke="#000" stroke-width="0.18">Note. For definition of characteristics, refer to notes to table 9.</text>
</svg>
</body></html>
